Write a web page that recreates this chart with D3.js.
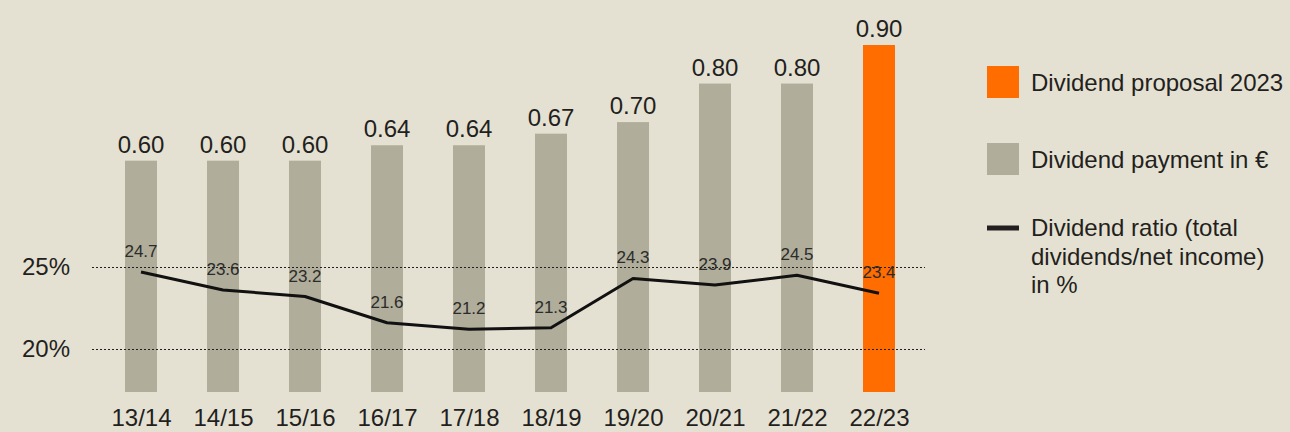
<!DOCTYPE html>
<html>
<head>
<meta charset="utf-8">
<script src="https://cdn.jsdelivr.net/npm/d3@7"></script>
<style>
  html, body { margin: 0; padding: 0; background: #e5e1d2; }
  svg { display: block; font-family: "Liberation Sans", Arial, Helvetica, sans-serif; }
</style>
</head>
<body>
<script>
var years = ['13/14', '14/15', '15/16', '16/17', '17/18', '18/19', '19/20', '20/21', '21/22', '22/23'];
var dividend = [0.60, 0.60, 0.60, 0.64, 0.64, 0.67, 0.70, 0.80, 0.80, 0.90];
var ratio = [24.7, 23.6, 23.2, 21.6, 21.2, 21.3, 24.3, 23.9, 24.5, 23.4];
var ratioTicks = [20, 25];
var legendItems = ['Dividend proposal 2023', 'Dividend payment in \u20ac'];
var legendLineText = ['Dividend ratio (total', 'dividends/net income)', 'in %'];

var w = 1290;
var h = 432;
var barWidth = 32;
var grey = '#b0ad9a';
var orange = '#ff6c00';
var ink = '#231f20';

var svg = d3.select('body').append('svg').attr('width', w).attr('height', h);

var x = d3.scalePoint().domain(years).range([141, 879]);
var yBar = d3.scaleLinear().domain([0, 0.9]).range([392, 45]);
var yLine = d3.scaleLinear().domain([20, 25]).range([349, 267]);

// bars
svg.selectAll('rect.bar')
  .data(dividend)
  .enter()
  .append('rect')
  .attr('class', 'bar')
  .attr('x', function(d, i) { return x(years[i]) - barWidth / 2; })
  .attr('y', function(d) { return yBar(d); })
  .attr('width', barWidth)
  .attr('height', function(d) { return yBar(0) - yBar(d); })
  .attr('fill', function(d, i) { return i === years.length - 1 ? orange : grey; });

// bar value labels
svg.selectAll('text.val')
  .data(dividend)
  .enter()
  .append('text')
  .attr('class', 'val')
  .attr('x', function(d, i) { return x(years[i]); })
  .attr('y', function(d) { return yBar(d) - 8; })
  .attr('text-anchor', 'middle')
  .attr('font-size', 24)
  .attr('fill', ink)
  .text(function(d) { return d3.format('.2f')(d); });

// dotted gridlines + percent labels
var yAxis = d3.axisLeft(yLine)
  .tickValues(ratioTicks)
  .tickSize(-(925 - 92))
  .tickPadding(22)
  .tickFormat(function(d) { return d + '%'; });

var gy = svg.append('g').attr('transform', 'translate(92,0)').call(yAxis);
gy.select('.domain').remove();
gy.selectAll('.tick line')
  .attr('stroke', ink)
  .attr('stroke-width', 1)
  .attr('stroke-dasharray', '2,2');
gy.selectAll('.tick text')
  .attr('font-size', 24)
  .attr('font-family', '"Liberation Sans", Arial, sans-serif')
  .attr('fill', ink);

// x labels
var xAxis = d3.axisBottom(x).tickSize(0).tickPadding(0);
var gx = svg.append('g').attr('transform', 'translate(0,0)').call(xAxis);
gx.select('.domain').remove();
gx.selectAll('.tick text')
  .attr('y', 426)
  .attr('dy', null)
  .attr('font-size', 24)
  .attr('font-family', '"Liberation Sans", Arial, sans-serif')
  .attr('fill', ink);

// ratio line
var line = d3.line()
  .x(function(d, i) { return x(years[i]); })
  .y(function(d) { return yLine(d); });

svg.append('path')
  .datum(ratio)
  .attr('d', line)
  .attr('fill', 'none')
  .attr('stroke', '#111')
  .attr('stroke-width', 3)
  .attr('stroke-linejoin', 'round');

svg.selectAll('text.ratio')
  .data(ratio)
  .enter()
  .append('text')
  .attr('class', 'ratio')
  .attr('x', function(d, i) { return x(years[i]); })
  .attr('y', function(d) { return yLine(d) - 15; })
  .attr('text-anchor', 'middle')
  .attr('font-size', 17)
  .attr('font-family', '"Liberation Sans Narrow", "Liberation Sans", Arial, sans-serif')
  .attr('fill', '#2b2b2b')
  .text(function(d) { return d.toFixed(1); });

// legend
var legend = svg.append('g').attr('transform', 'translate(987,0)');
var legendColors = [orange, grey];
var legendY = [66, 143];

legend.selectAll('rect')
  .data(legendItems)
  .enter()
  .append('rect')
  .attr('x', 0)
  .attr('y', function(d, i) { return legendY[i]; })
  .attr('width', 32)
  .attr('height', 32)
  .attr('fill', function(d, i) { return legendColors[i]; });

legend.selectAll('text.item')
  .data(legendItems)
  .enter()
  .append('text')
  .attr('class', 'item')
  .attr('x', 44)
  .attr('y', function(d, i) { return legendY[i] + 25; })
  .attr('font-size', 24)
  .attr('fill', ink)
  .text(function(d) { return d; });

legend.append('rect')
  .attr('x', 0)
  .attr('y', 225.5)
  .attr('width', 32)
  .attr('height', 5)
  .attr('fill', ink);

legend.selectAll('text.lineitem')
  .data(legendLineText)
  .enter()
  .append('text')
  .attr('class', 'lineitem')
  .attr('x', 44)
  .attr('y', function(d, i) { return 236 + i * 28.5; })
  .attr('font-size', 24)
  .attr('fill', ink)
  .text(function(d) { return d; });
</script>
</body>
</html>
